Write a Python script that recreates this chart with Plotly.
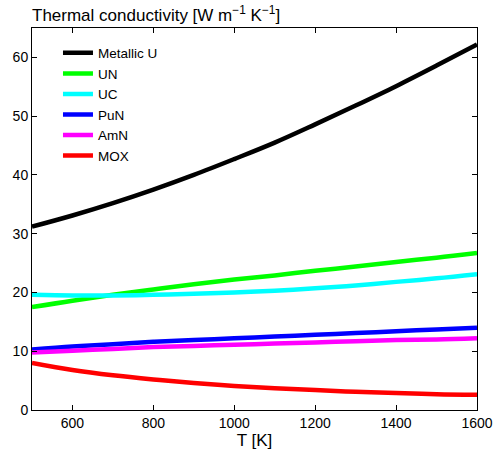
import plotly.graph_objects as go

T = [500, 600, 700, 800, 900, 1000, 1100, 1200, 1300, 1400, 1500, 1600]
metallic_u = [31.2, 33.1, 35.2, 37.5, 40.0, 42.7, 45.5, 48.6, 51.8, 55.1, 58.6, 62.2]
un = [17.5, 18.6, 19.6, 20.5, 21.4, 22.2, 22.9, 23.7, 24.4, 25.2, 25.9, 26.7]
uc = [19.6, 19.5, 19.5, 19.6, 19.8, 20.0, 20.3, 20.7, 21.2, 21.8, 22.4, 23.1]
pun = [10.3, 10.8, 11.2, 11.6, 11.9, 12.2, 12.5, 12.8, 13.1, 13.4, 13.7, 14.0]
amn = [9.8, 10.1, 10.4, 10.7, 10.9, 11.1, 11.3, 11.5, 11.7, 11.9, 12.0, 12.2]
mox = [8.0, 6.8, 5.9, 5.2, 4.6, 4.1, 3.7, 3.4, 3.1, 2.9, 2.7, 2.6]

series = [
    ("Metallic U", metallic_u, "#000000"),
    ("UN", un, "#00ff00"),
    ("UC", uc, "#00ffff"),
    ("PuN", pun, "#0000ff"),
    ("AmN", amn, "#ff00ff"),
    ("MOX", mox, "#ff0000"),
]

x_ticks = [600, 800, 1000, 1200, 1400, 1600]
y_ticks = [0, 10, 20, 30, 40, 50, 60]

FONT = "Liberation Sans, Arial, Helvetica, sans-serif"

fig = go.Figure()
for name, vals, color in series:
    fig.add_trace(go.Scatter(x=T, y=vals, mode="lines", name=name,
                             line=dict(color=color, width=4.5, shape="spline")))

axis_common = dict(showline=True, linecolor="black", linewidth=1, mirror="ticks",
                   ticks="inside", ticklen=5, tickcolor="black", showgrid=False,
                   zeroline=False, automargin=False,
                   tickfont=dict(size=14, color="black", family=FONT))

fig.update_layout(
    width=493, height=454,
    margin=dict(l=32, r=16, t=28, b=44),
    paper_bgcolor="white", plot_bgcolor="white",
    font=dict(family=FONT, color="black"),
    title=dict(text="Thermal conductivity [W m<sup>\u22121</sup> K<sup>\u22121</sup>]",
               x=0, xanchor="left", xref="paper", y=1 - 15 / 454, yanchor="middle",
               yref="container",
               font=dict(size=17, family=FONT, color="black")),
    xaxis=dict(range=[500, 1600], tickvals=x_ticks,
               title=dict(text="T [K]", font=dict(size=17), standoff=4),
               **axis_common),
    yaxis=dict(range=[0, 65], tickvals=y_ticks, **axis_common),
    legend=dict(x=0.0584, y=0.975, xanchor="left", yanchor="top", bgcolor="rgba(0,0,0,0)",
                font=dict(size=13.5, family=FONT, color="black")),
)

fig.write_html("out.html")
